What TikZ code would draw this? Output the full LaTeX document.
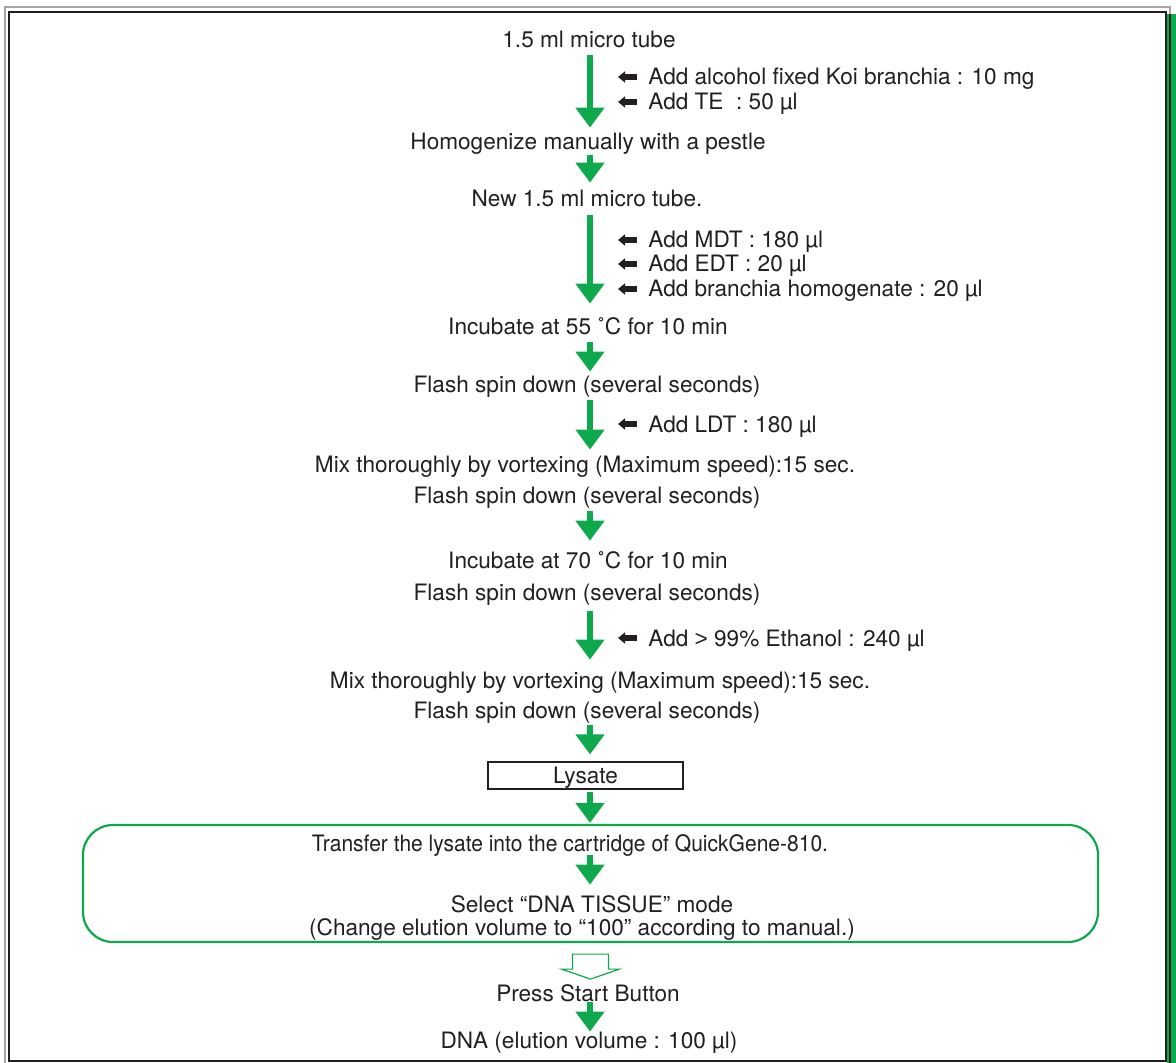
\documentclass[tikz,border=0pt]{standalone}
\usepackage{fontspec}
\usepackage{graphicx}
\setmainfont{TeX Gyre Heros}
\newfontfamily\arialsign{Liberation Sans}
\usetikzlibrary{arrows.meta,positioning}
\definecolor{koigreen}{RGB}{13,169,76}
\definecolor{ink}{RGB}{35,31,32}
\tikzset{
  stepnode/.style={inner sep=0pt,text height=8pt,text depth=0pt,text=ink,font=\fontsize{11.3}{13}\selectfont},
  note/.style={stepnode,anchor=west},
  flow/.style={draw=koigreen,line width=3pt,-{Triangle[width=14pt,length=10pt]},shorten <=3.5pt,shorten >=3.5pt},
  addarrow/.style={draw=ink,line width=2.6pt,-{Triangle[width=5.5pt,length=3.5pt]}},
}
\begin{document}
\begin{tikzpicture}[x=0.5pt,y=-0.5pt]
\useasboundingbox (0,0) rectangle (1176,1063);
\draw [gray!70,line width=0.75pt] (5,1063) -- (5,7) -- (1170,7) -- (1170,14);
\fill [koigreen] (1167,14) rectangle (1176,1063);
\draw [ink,line width=0.6pt] (9,12) rectangle (1166,1061);
\draw [ink,line width=0.6pt] (1170,14) -- (1170,1063);
\coordinate (ax) at (590,0);
\node[stepnode] (t1) at (589,40) {1.5 ml micro tube};
\node[stepnode] (t2) at (588,142) {Homogenize manually with a pestle};
\node[stepnode] (t3) at (587,199) {New 1.5 ml micro tube.};
\node[stepnode] (t4) at (588,327) {Incubate at 55 ˚C for 10 min};
\node[stepnode] (t5) at (587,385) {Flash spin down (several seconds)};
\node[stepnode] (t6) at (585,465) {Mix thoroughly by vortexing (Maximum speed):15 sec.};
\node[stepnode] (t7) at (587,495) {Flash spin down (several seconds)};
\node[stepnode] (t8) at (588,560) {Incubate at 70 ˚C for 10 min};
\node[stepnode] (t9) at (587,592) {Flash spin down (several seconds)};
\node[stepnode] (t10) at (600,680) {Mix thoroughly by vortexing (Maximum speed):15 sec.};
\node[stepnode] (t11) at (587,710) {Flash spin down (several seconds)};
\node[stepnode,draw=ink,line width=0.6pt,minimum width=97.5pt,minimum height=13.5pt] (lysate) at (585.5,775.5) {Lysate};
\node[draw=koigreen,line width=1.1pt,rounded corners=15pt,minimum width=507.5pt,minimum height=58.5pt,inner sep=0pt] (qg) at (590.5,883.5) {};
\node[stepnode] (t12) at (570,843) {\scalebox{0.93}[1]{Transfer the lysate into the cartridge of QuickGene-810.}};
\node[stepnode] (t13) at (592,904) {Select “DNA TISSUE” mode};
\node[stepnode] (t14) at (582,927) {(Change elution volume to “100” according to manual.)};
\node[stepnode] (t15) at (588,993) {Press Start Button};
\node[stepnode] (t16) at (589,1040) {DNA (elution volume : 100 µl)};
\draw [flow,shorten >=3pt] (t1.south -| ax) -- (t2.north -| ax);
\draw [flow,shorten <=2.5pt,shorten >=4pt] (t2.south -| ax) -- (t3.north -| ax);
\draw [flow,shorten <=4pt,shorten >=7.5pt] (t3.south -| ax) -- (t4.north -| ax);
\draw [flow,shorten >=2.5pt] (t4.south -| ax) -- (t5.north -| ax);
\draw [flow] (t5.south -| ax) -- (t6.north -| ax);
\draw [flow,shorten <=4pt,shorten >=5.5pt] (t7.south -| ax) -- (t8.north -| ax);
\draw [flow,shorten <=5.5pt,shorten >=6pt] (t9.south -| ax) -- (t10.north -| ax);
\draw [flow] (t11.south -| ax) -- (lysate.north -| ax);
\draw [flow,shorten <=1pt,shorten >=0.5pt] (lysate.south -| ax) -- (qg.north -| ax);
\draw [flow,shorten <=2pt,shorten >=5.5pt] (t12.south -| ax) -- (t13.north -| ax);
\draw [flow,shorten <=0.5pt,shorten >=0pt] (t15.south -| ax) -- (t16.north -| ax);
\draw [koigreen,line width=0.6pt] (qg.south) ++(-18,11) -- ++(36,0) -- ++(0,15) -- ++(11,0)
  -- ++(-29,10) -- ++(-29,-10) -- ++(11,0) -- cycle;
\foreach \y/\txt [count=\i] in {77/{Add alcohol fixed Koi branchia : 10 mg},102/{Add TE \ : 50 µl},
  240/{Add MDT : 180 µl},264/{Add EDT : 20 µl},289/{Add branchia homogenate : 20 µl},
  424/{Add LDT : 180 µl},638/{Add {\arialsign >} 99\% Ethanol : 240 µl}}{
  \node[note] (n\i) at (648,\y) {\txt};
  \draw [addarrow] ([xshift=-5.5pt]n\i.west) -- ++(-9.5pt,0);
}
\end{tikzpicture}
\end{document}
